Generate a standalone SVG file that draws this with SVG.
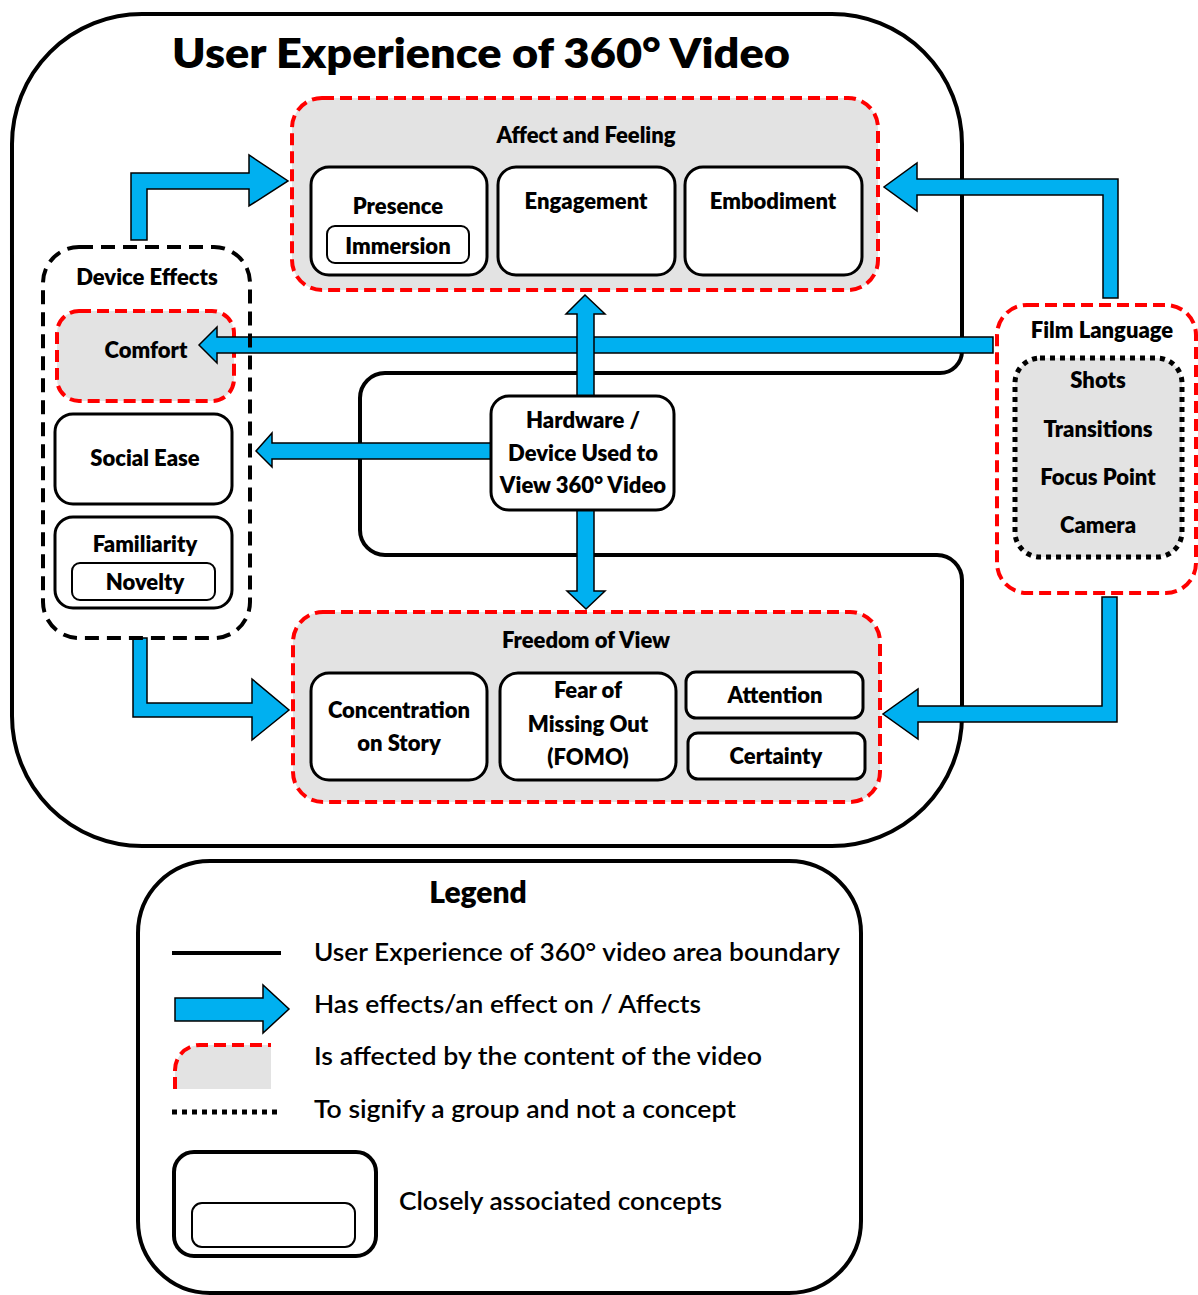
<svg xmlns="http://www.w3.org/2000/svg" width="1198" height="1295" viewBox="0 0 1198 1295">
  <style>
    .t { font-family: Lato, "Liberation Sans", "DejaVu Sans", sans-serif; font-weight: 800; fill: #000; }
    .n { font-size: 22px; text-anchor: middle; }
    .lg { font-size: 24px; font-weight: 600; }
    .box { fill: #fff; stroke: #000; stroke-width: 3; }
    .inner { fill: #fff; stroke: #000; stroke-width: 2; }
    .content { fill: #e3e3e3; stroke: #ff0000; stroke-width: 4; stroke-dasharray: 12 6; }
    .group { fill: none; stroke: #000; stroke-width: 4; stroke-dasharray: 14 8; }
    .dots { fill: #e3e3e3; stroke: #000; stroke-width: 5; stroke-dasharray: 5 5; }
    .arrow { fill: #00b0f0; stroke: #000; stroke-width: 1.5; stroke-linejoin: miter; }
    .edge { fill: none; stroke: #000; stroke-width: 4; }
  </style>

  <rect width="1198" height="1295" fill="#fff"/>

  <!-- area boundary with notch around the hardware node -->
  <g id="ux-boundary">
    <path class="edge" d="M142,14 L832,14 A130,130 0 0 1 962,144 L962,351 A22,22 0 0 1 940,373 L385,373 A25,25 0 0 0 360,398 L360,530 A25,25 0 0 0 385,555 L937,555 A25,25 0 0 1 962,580 L962,716 A130,130 0 0 1 832,846 L142,846 A130,130 0 0 1 12,716 L12,144 A130,130 0 0 1 142,14 Z"/>
    <text class="t" x="172" y="68" font-size="42" textLength="618" lengthAdjust="spacingAndGlyphs">User Experience of 360° Video</text>
  </g>

  <!-- Affect and Feeling -->
  <g id="affect-feeling">
    <rect class="content" x="292" y="98" width="586" height="192" rx="30"/>
    <text class="t n" x="586" y="143">Affect and Feeling</text>
  </g>
  <g id="presence">
    <rect class="box" x="311" y="167" width="176" height="108" rx="18"/>
    <text class="t n" x="398" y="214">Presence</text>
    <g id="immersion">
      <rect class="inner" x="327" y="226" width="142" height="37" rx="8"/>
      <text class="t n" x="398" y="254">Immersion</text>
    </g>
  </g>
  <g id="engagement">
    <rect class="box" x="498" y="167" width="177" height="108" rx="18"/>
    <text class="t n" x="586" y="209">Engagement</text>
  </g>
  <g id="embodiment">
    <rect class="box" x="685" y="167" width="177" height="108" rx="18"/>
    <text class="t n" x="773" y="209">Embodiment</text>
  </g>

  <!-- Device Effects members -->
  <g id="comfort">
    <rect class="content" x="57" y="311" width="177" height="90" rx="22"/>
    <text class="t n" x="146" y="358">Comfort</text>
  </g>
  <g id="social-ease">
    <rect class="box" x="55" y="414" width="177" height="90" rx="18"/>
    <text class="t n" x="145" y="466">Social Ease</text>
  </g>
  <g id="familiarity">
    <rect class="box" x="55" y="517" width="177" height="91" rx="18"/>
    <text class="t n" x="145" y="552">Familiarity</text>
    <g id="novelty">
      <rect class="inner" x="72" y="563" width="143" height="37" rx="8"/>
      <text class="t n" x="145" y="590">Novelty</text>
    </g>
  </g>

  <!-- Film Language -->
  <g id="film-language">
    <rect x="997" y="305" width="199" height="288" rx="30" fill="#fff" stroke="#ff0000" stroke-width="4" stroke-dasharray="12 6"/>
    <text class="t n" x="1102" y="338">Film Language</text>
    <rect class="dots" x="1015" y="358" width="167" height="199" rx="25"/>
    <text class="t n" x="1098" y="388">Shots</text>
    <text class="t n" x="1098" y="437">Transitions</text>
    <text class="t n" x="1098" y="485">Focus Point</text>
    <text class="t n" x="1098" y="533">Camera</text>
  </g>

  <!-- Freedom of View -->
  <g id="freedom-of-view">
    <rect class="content" x="293" y="612" width="587" height="190" rx="30"/>
    <text class="t n" x="586" y="648">Freedom of View</text>
  </g>
  <g id="concentration">
    <rect class="box" x="311" y="673" width="176" height="107" rx="18"/>
    <text class="t n" x="399" y="718">Concentration</text>
    <text class="t n" x="399" y="751">on Story</text>
  </g>
  <g id="fomo">
    <rect class="box" x="500" y="673" width="176" height="107" rx="18"/>
    <text class="t n" x="588" y="698">Fear of</text>
    <text class="t n" x="588" y="732">Missing Out</text>
    <text class="t n" x="588" y="765">(FOMO)</text>
  </g>
  <g id="attention">
    <rect class="box" x="686" y="672" width="177" height="46" rx="10"/>
    <text class="t n" x="775" y="703">Attention</text>
  </g>
  <g id="certainty">
    <rect class="box" x="688" y="733" width="177" height="46" rx="10"/>
    <text class="t n" x="776" y="764">Certainty</text>
  </g>

  <!-- connectors -->
  <g id="connectors">
    <path class="arrow" d="M131,240 L131,173 L249,173 L249,155 L288,181 L249,206 L249,189 L147,189 L147,240 Z"/>
    <path class="arrow" d="M133,638 L133,717 L252,717 L252,740 L289,710 L252,679 L252,703 L147,703 L147,638 Z"/>
    <path class="arrow" d="M1118,298 L1118,179 L917,179 L917,163 L884,187 L917,211 L917,195 L1103,195 L1103,298 Z"/>
    <path class="arrow" d="M1102,597 L1102,706 L918,706 L918,689 L883,714 L918,739 L918,722 L1117,722 L1117,597 Z"/>
    <path class="arrow" d="M993,337 L217,337 L217,327 L199,345 L217,363 L217,353 L993,353 Z"/>
    <path class="arrow" d="M491,443 L272,443 L272,433 L256,451 L272,467 L272,459 L491,459 Z"/>
    <path class="arrow" d="M577,396 L577,314 L566,314 L585,295 L605,314 L594,314 L594,396 Z"/>
    <path class="arrow" d="M577,510 L577,591 L567,591 L586,609 L605,591 L594,591 L594,510 Z"/>
  </g>

  <!-- Device Effects group outline -->
  <g id="device-effects">
    <rect class="group" x="43" y="247" width="207" height="391" rx="36"/>
    <text class="t n" x="147" y="285">Device Effects</text>
  </g>

  <!-- Hardware node -->
  <g id="hardware">
    <rect class="box" x="491" y="396" width="183" height="114" rx="18"/>
    <text class="t n" x="583" y="428">Hardware /</text>
    <text class="t n" x="583" y="461">Device Used to</text>
    <text class="t n" x="583" y="493">View 360° Video</text>
  </g>

  <!-- Legend -->
  <g id="legend">
    <rect class="edge" x="138" y="861" width="723" height="432" rx="72"/>
    <text class="t" x="478" y="903" font-size="30" text-anchor="middle">Legend</text>

    <line x1="172" y1="953" x2="281" y2="953" stroke="#000" stroke-width="4"/>
    <text class="t lg" x="314" y="961" textLength="526" lengthAdjust="spacingAndGlyphs">User Experience of 360° video area boundary</text>

    <path class="arrow" d="M175,998 L263,998 L263,985 L289,1009 L263,1033 L263,1021 L175,1021 Z"/>
    <text class="t lg" x="314" y="1013" textLength="387" lengthAdjust="spacingAndGlyphs">Has effects/an effect on / Affects</text>

    <path d="M175,1089 L175,1070 A25,25 0 0 1 200,1045 L271,1045 L271,1089 Z" fill="#e3e3e3"/>
    <path d="M175,1089 L175,1070 A25,25 0 0 1 200,1045 L271,1045" fill="none" stroke="#ff0000" stroke-width="4" stroke-dasharray="12 6"/>
    <text class="t lg" x="314" y="1065" textLength="448" lengthAdjust="spacingAndGlyphs">Is affected by the content of the video</text>

    <line x1="172" y1="1112" x2="282" y2="1112" stroke="#000" stroke-width="5" stroke-dasharray="5 5"/>
    <text class="t lg" x="314" y="1118" textLength="422" lengthAdjust="spacingAndGlyphs">To signify a group and not a concept</text>

    <rect x="174" y="1152" width="202" height="104" rx="20" fill="#fff" stroke="#000" stroke-width="4"/>
    <rect class="inner" x="192" y="1203" width="163" height="44" rx="10"/>
    <text class="t lg" x="399" y="1210" textLength="323" lengthAdjust="spacingAndGlyphs">Closely associated concepts</text>
  </g>
</svg>
